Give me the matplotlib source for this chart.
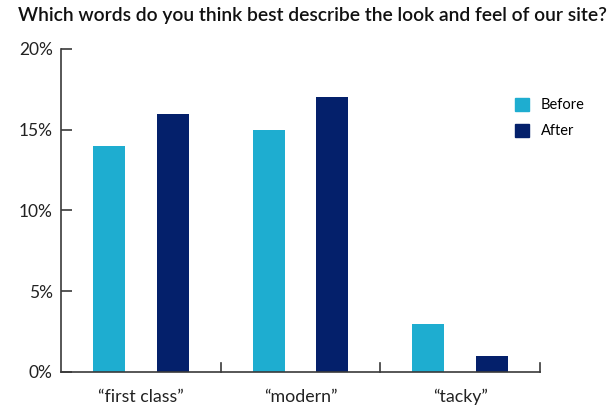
import numpy as np
import matplotlib.pyplot as plt
from matplotlib.patches import Patch

categories = ['\u201cfirst class\u201d', '\u201cmodern\u201d', '\u201ctacky\u201d']
before = [14, 15, 3]
after = [16, 17, 1]
yticks = [0, 5, 10, 15, 20]

c_before = '#1eadd0'
c_after = '#04206b'
c_axis = '#3a3a3a'

plt.rcParams['font.family'] = ['Lato', 'DejaVu Sans']

fig = plt.figure(figsize=(6.15, 4.05), dpi=100)
ax = fig.add_axes([61 / 615, 1 - 372 / 405, 479 / 615, 323 / 405])

x = np.arange(len(categories))
w = 0.2
ax.bar(x - 0.2, before, w, color=c_before, label='Before')
ax.bar(x + 0.2, after, w, color=c_after, label='After')

ax.set_xlim(-0.5, 2.5)
ax.set_ylim(0, 20)
ax.set_yticks(yticks)
ax.set_yticklabels(['%d%%' % v for v in yticks], fontsize=12.5, color='#222222')
ax.set_xticks(x)
ax.set_xticklabels(categories, fontsize=12.8, color='#222222')
ax.tick_params(axis='x', length=0, pad=12)
ax.tick_params(axis='y', direction='in', length=8, width=1.2, color=c_axis, pad=6)

# group separator ticks on the x axis
for b in [0.5, 1.5, 2.5]:
    ax.plot([b, b], [0, 0.55], color=c_axis, lw=1.2, clip_on=False)

for s in ['top', 'right']:
    ax.spines[s].set_visible(False)
for s in ['left', 'bottom']:
    ax.spines[s].set_color(c_axis)
    ax.spines[s].set_linewidth(1.2)

handles = [Patch(color=c_before, label='Before'), Patch(color=c_after, label='After')]
ax.legend(handles=handles, loc='upper left', bbox_to_anchor=(0.92, 0.89),
          frameon=False, fontsize=10.5, handlelength=1.0, handleheight=1.0,
          handletextpad=0.8, labelspacing=0.8)

fig.text(18 / 615, 1 - 15 / 405, 'Which words do you think best describe the look and feel of our site?',
         fontsize=13.9, fontweight='semibold', color='#111111', va='center', ha='left')

fig.savefig('out.png', dpi=100)
